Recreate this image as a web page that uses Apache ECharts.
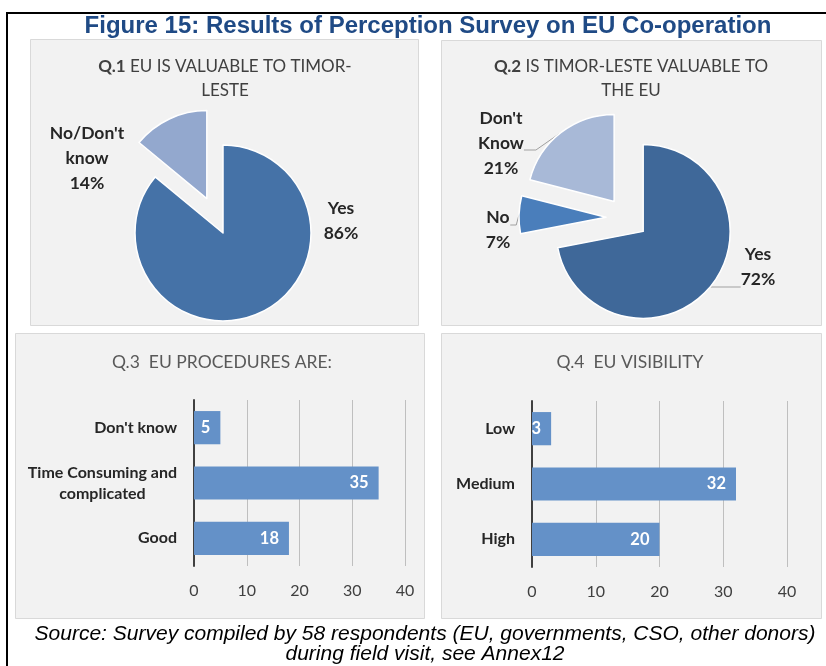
<!DOCTYPE html>
<html>
<head>
<meta charset="utf-8">
<title>Figure 15: Results of Perception Survey on EU Co-operation</title>
<script src="https://cdn.jsdelivr.net/npm/echarts@6.0.0/dist/echarts.min.js"></script>
<style>
  html, body { margin: 0; padding: 0; background: #fff; }
  #chart { width: 826px; height: 666px; }
</style>
</head>
<body>
<div id="chart"></div>
<script>
// Q.1 EU is valuable to Timor-Leste (%)
const q1Names = ['Yes', "No/Don't know"];
const q1Values = [86, 14];
// Q.2 Is Timor-Leste valuable to the EU (%)
const q2Names = ['Yes', 'No', "Don't Know"];
const q2Values = [72, 7, 21];
// Q.3 EU procedures are: (respondents)
const q3Cats = ["Don't know", 'Time Consuming and complicated', 'Good'];
const q3Values = [5, 35, 18];
// Q.4 EU visibility (respondents)
const q4Cats = ['Low', 'Medium', 'High'];
const q4Values = [3, 32, 20];
// value axis ticks of the bar charts
const xTicks = [0, 10, 20, 30, 40];

const CAL = 'Lato, "Open Sans", sans-serif';
const NARROW = '"Liberation Sans Narrow", "Liberation Sans", Arial, sans-serif';

// pie styling: colours, how far each slice is pulled out, label placement
const q1Colors = ['#4572A7', '#93A8CE'];
const q2Colors = ['#3F6899', '#4A7EBB', '#A8B9D7'];
const q1Explode = [0, 38];
const q2Explode = [21, 21, 21];
// [x, y, padding, length2 of leader line]
const q1LabelPos = [[341, 221, 0, 0], [87, 158, 0, 0]];
const q2LabelPos = [[758, 287, [0, 0, 40, 0], 30], [498, 225, [10, 0, 0, 0], 6], [501, 150, [0, 0, 14, 0], 12]];

function wrap(text, max) {
  const words = text.split(' ');
  const lines = [];
  let cur = '';
  words.forEach(w => {
    if (cur && (cur + ' ' + w).length > max) { lines.push(cur); cur = w; }
    else cur = cur ? cur + ' ' + w : w;
  });
  if (cur) lines.push(cur);
  return lines;
}

function pieLabel(p) {
  const lines = wrap(p.name, 8).concat([Math.round(p.percent) + '%']);
  return lines.map(l => '{c|' + l + '}').join('\n');
}

let chartDom = document.getElementById('chart');
let myChart = echarts.init(chartDom, null, { renderer: 'canvas' });

// Excel pulls slices out of the pie: one pie series per slice, moved along the slice bisector
function explodedPie(names, values, colors, explode, center, radius, labelPos, showLine) {
  const total = values.reduce((a, b) => a + b, 0);
  let acc = 0;
  return names.map((name, i) => {
    const mid = (acc + values[i] / 2) / total * 2 * Math.PI;
    acc += values[i];
    const c = [center[0] + explode[i] * Math.sin(mid), center[1] - explode[i] * Math.cos(mid)];
    const lp = labelPos[i];
    return {
      type: 'pie',
      center: c,
      radius: radius,
      startAngle: 90,
      clockwise: true,
      silent: true,
      avoidLabelOverlap: false,
      data: names.map((n, j) => ({
        name: n,
        value: values[j],
        itemStyle: j === i
          ? { color: colors[j], borderColor: '#fff', borderWidth: 1.5 }
          : { color: 'rgba(0,0,0,0)', borderWidth: 0 },
        label: { show: j === i },
        labelLine: { show: j === i && showLine, length2: lp[3] }
      })),
      label: {
        position: 'outside',
        formatter: pieLabel,
        padding: lp[2],
        backgroundColor: 'rgba(0,0,0,0)',
        rich: {
          c: { align: 'center', fontFamily: CAL, fontWeight: 'bold', fontSize: 17.5, lineHeight: 25, color: '#262626' }
        }
      },
      labelLine: {
        length: 8,
        minTurnAngle: 0,
        lineStyle: { color: '#A0A0A0', width: 1 }
      },
      labelLayout: function () {
        return { x: lp[0], y: lp[1], align: 'center', verticalAlign: 'middle' };
      }
    };
  });
}

function barGrid(left, right, top, bottom) {
  return { left: left, right: right, top: top, bottom: bottom, containLabel: false, outerBoundsMode: 'none' };
}

function valueAxis(gridIndex) {
  return {
    type: 'value',
    gridIndex: gridIndex,
    min: xTicks[0],
    max: xTicks[xTicks.length - 1],
    interval: xTicks[1] - xTicks[0],
    axisLine: { show: false },
    axisTick: { show: false },
    axisLabel: { color: '#404040', fontFamily: CAL, fontSize: 16, margin: 17 },
    splitLine: { show: true, lineStyle: { color: '#BFBFBF', width: 1 } }
  };
}

function catAxis(gridIndex, cats) {
  return {
    type: 'category',
    gridIndex: gridIndex,
    data: cats,
    inverse: true,
    axisLine: { show: true, lineStyle: { color: '#404040', width: 2 } },
    axisTick: { show: false },
    axisLabel: {
      margin: 17,
      formatter: v => wrap(v, 18).map(l => '{c|' + l + '}').join('\n'),
      rich: {
        c: { align: 'center', fontFamily: CAL, fontWeight: 'bold', fontSize: 16, color: '#262626', lineHeight: 21 }
      }
    }
  };
}

function barSeries(idx, values) {
  return {
    type: 'bar',
    xAxisIndex: idx,
    yAxisIndex: idx,
    data: values,
    barCategoryGap: '40%',
    silent: true,
    itemStyle: { color: '#6491C8' },
    label: {
      show: true,
      position: 'insideRight',
      distance: 10,
      color: '#fff',
      fontFamily: CAL,
      fontWeight: 'bold',
      fontSize: 16.5
    }
  };
}

function panel(x, y, w, h) {
  return {
    type: 'rect', z: -10,
    shape: { x: x, y: y, width: w, height: h },
    style: { fill: '#F2F2F2', stroke: '#D9D9D9', lineWidth: 1 }
  };
}

function label(x, y, text, style) {
  return {
    type: 'text', z: 100, x: x, y: y,
    style: Object.assign({
      text: text, align: 'center', verticalAlign: 'middle',
      textAlign: 'center', textVerticalAlign: 'middle'
    }, style)
  };
}

const panelTitle = {
  fill: '#404040', fontFamily: CAL, fontSize: 17, lineHeight: 24,
  rich: { b: { fontWeight: 'bold', fontFamily: CAL, fontSize: 17, fill: '#404040' } }
};

let option = {
  backgroundColor: '#fff',
  animation: false,
  graphic: {
    elements: [
      { type: 'line', z: 100, shape: { x1: 6, y1: 13, x2: 826, y2: 13 }, style: { stroke: '#000', lineWidth: 2 } },
      { type: 'line', z: 100, shape: { x1: 7, y1: 12, x2: 7, y2: 666 }, style: { stroke: '#000', lineWidth: 2 } },
      panel(30.5, 39.5, 388, 286),
      panel(441.5, 40.5, 380, 285),
      panel(15.5, 333.5, 409, 285),
      panel(441.5, 333.5, 380, 285),
      label(428, 26, 'Figure 15: Results of Perception Survey on EU Co-operation', {
        fill: '#1F4A85', fontFamily: NARROW, fontWeight: 'bold', fontSize: 24
      }),
      label(225, 79, '{b|Q.1} EU IS VALUABLE TO TIMOR-\nLESTE', panelTitle),
      label(631, 79, '{b|Q.2} IS TIMOR-LESTE VALUABLE TO\nTHE EU', panelTitle),
      label(222, 362, 'Q.3  EU PROCEDURES ARE:', { fill: '#595959', fontFamily: CAL, fontSize: 17.5 }),
      label(630, 362, 'Q.4  EU VISIBILITY', { fill: '#595959', fontFamily: CAL, fontSize: 17.5 }),
      label(425, 644, 'Source: Survey compiled by 58 respondents (EU, governments, CSO, other donors)\nduring field visit, see Annex12', {
        fill: '#000', fontFamily: NARROW, fontStyle: 'italic', fontSize: 21, lineHeight: 20
      })
    ]
  },
  grid: [
    barGrid(194, 826 - 405, 400, 666 - 566),
    barGrid(532, 826 - 787, 401, 666 - 567)
  ],
  xAxis: [valueAxis(0), valueAxis(1)],
  yAxis: [catAxis(0, q3Cats), catAxis(1, q4Cats)],
  series: [].concat(
    explodedPie(q1Names, q1Values, q1Colors, q1Explode, [223, 233], 88, q1LabelPos, false),
    explodedPie(q2Names, q2Values, q2Colors, q2Explode, [627, 218], 87, q2LabelPos, true),
    [barSeries(0, q3Values), barSeries(1, q4Values)]
  )
};

myChart.setOption(option);
window.addEventListener('resize', () => {
  myChart.resize();
});
</script>
</body>
</html>
